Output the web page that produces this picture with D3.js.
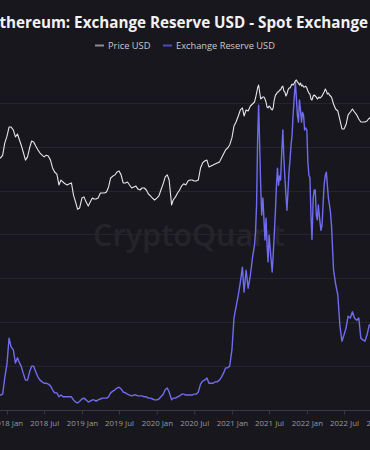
<!DOCTYPE html>
<html><head><meta charset="utf-8">
<script src="https://cdn.jsdelivr.net/npm/d3@7"></script>
<style>
html,body{margin:0;padding:0;background:#18171d;overflow:hidden;}
svg{display:block;}
</style></head>
<body>
<svg id="chart" width="370" height="450"></svg>
<script>
const titleText = "Ethereum: Exchange Reserve USD - Spot Exchange";
const seriesNames = ["Price USD", "Exchange Reserve USD"];
const tickDates = ["2018-01-01","2018-07-01","2019-01-01","2019-07-01","2020-01-01","2020-07-01","2021-01-01","2021-07-01","2022-01-01","2022-07-01","2023-01-01"];
const tickLabels = ["2018 Jan","2018 Jul","2019 Jan","2019 Jul","2020 Jan","2020 Jul","2021 Jan","2021 Jul","2022 Jan","2022 Jul","2023 Jan"];
const reserveGrid = [10,20,30,40,50,60,70]; // billions USD

const dates = [
"2017-11-21","2017-12-01","2017-12-11","2017-12-21",
"2018-01-01","2018-01-11","2018-01-21","2018-02-01","2018-02-11","2018-02-21","2018-03-01","2018-03-11","2018-03-21",
"2018-04-01","2018-04-11","2018-04-21","2018-05-01","2018-05-11","2018-05-21","2018-06-01","2018-06-11","2018-06-21",
"2018-07-01","2018-07-11","2018-07-21","2018-08-01","2018-08-11","2018-08-21","2018-09-01","2018-09-11","2018-09-21",
"2018-10-01","2018-10-11","2018-10-21","2018-11-01","2018-11-11","2018-11-21","2018-12-01","2018-12-11","2018-12-21",
"2019-01-01","2019-01-11","2019-01-21","2019-02-01","2019-02-11","2019-02-21","2019-03-01","2019-03-11","2019-03-21",
"2019-04-01","2019-04-11","2019-04-21","2019-05-01","2019-05-11","2019-05-21","2019-06-01","2019-06-11","2019-06-21",
"2019-07-01","2019-07-11","2019-07-21","2019-08-01","2019-08-11","2019-08-21","2019-09-01","2019-09-11","2019-09-21",
"2019-10-01","2019-10-11","2019-10-21","2019-11-01","2019-11-11","2019-11-21","2019-12-01","2019-12-11","2019-12-21",
"2020-01-01","2020-01-11","2020-01-21","2020-02-01","2020-02-11","2020-02-21","2020-03-01","2020-03-13","2020-03-21",
"2020-04-01","2020-04-11","2020-04-21","2020-05-01","2020-05-11","2020-05-21","2020-06-01","2020-06-11","2020-06-21",
"2020-07-01","2020-07-11","2020-07-21","2020-08-01","2020-08-11","2020-08-21","2020-09-01","2020-09-11","2020-09-21",
"2020-10-01","2020-10-11","2020-10-21","2020-11-01","2020-11-11","2020-11-21","2020-12-01","2020-12-11","2020-12-21",
"2021-01-01","2021-01-11","2021-01-21","2021-02-01","2021-02-11","2021-02-21","2021-03-01","2021-03-11","2021-03-21",
"2021-04-01","2021-04-11","2021-04-21","2021-04-26",
"2021-05-01","2021-05-06","2021-05-11","2021-05-16","2021-05-21","2021-05-26",
"2021-06-01","2021-06-06","2021-06-11","2021-06-16","2021-06-21","2021-06-26",
"2021-07-01","2021-07-06","2021-07-11","2021-07-16","2021-07-21","2021-07-26",
"2021-08-01","2021-08-06","2021-08-11","2021-08-16","2021-08-21","2021-08-26",
"2021-09-01","2021-09-06","2021-09-11","2021-09-16","2021-09-21","2021-09-26",
"2021-10-01","2021-10-06","2021-10-11","2021-10-16","2021-10-21","2021-10-26",
"2021-11-01","2021-11-06","2021-11-11","2021-11-16","2021-11-21","2021-11-26",
"2021-12-01","2021-12-06","2021-12-11","2021-12-16","2021-12-21","2021-12-26",
"2022-01-01","2022-01-06","2022-01-11","2022-01-16","2022-01-21","2022-01-26",
"2022-02-01","2022-02-06","2022-02-11","2022-02-16","2022-02-21","2022-02-26",
"2022-03-01","2022-03-06","2022-03-11","2022-03-16","2022-03-21","2022-03-26",
"2022-04-01","2022-04-06","2022-04-11","2022-04-16","2022-04-21","2022-04-26",
"2022-05-01","2022-05-11","2022-05-21","2022-06-01","2022-06-11","2022-06-21",
"2022-07-01","2022-07-11","2022-07-21","2022-08-01","2022-08-11","2022-08-21",
"2022-09-01","2022-09-11","2022-09-21","2022-10-01","2022-10-11","2022-10-21","2022-11-01","2022-11-11"
];

const priceUSD = [
465,465,505,725,
890,1170,1170,1070,870,950,818,685,555,
435,480,625,771,750,664,590,538,505,
480,505,492,435,344,305,287,207,240,
226,214,207,214,220,153,125,100,104,
140,145,125,110,125,140,136,136,140,
163,163,163,168,195,255,270,280,305,
314,280,220,220,226,207,189,195,201,
183,178,189,189,178,158,149,140,132,
140,149,178,214,263,280,240,114,132,
145,163,178,201,214,207,233,240,240,
233,233,240,344,400,424,435,355,365,
375,387,400,410,465,523,590,625,685,
845,1208,1360,1628,1950,2070,1628,1950,1890,
2196,2332,2475,2790,
3235,3760,4110,3335,2706,2790,
2870,2870,2706,2475,2130,2070,
2196,2130,2008,1950,2070,2625,
3050,3142,3335,3335,3540,3540,
3870,3991,3437,3335,2960,3142,
3540,3760,3760,3991,4237,4110,
4365,4637,4780,4500,4365,4110,
4365,3991,4110,3870,3870,3991,
3760,3437,3235,3142,2706,2625,
2960,3050,2960,2870,2706,2790,
2870,2790,2870,2960,3142,3335,
3650,3437,3142,3235,3050,2960,
2870,2332,2008,1890,1445,1104,
1104,1260,1680,1835,2008,1835,
1680,1489,1360,1360,1360,1400,1535,1445
];

const reserveUSDbn = [
3.3,3.3,3.5,7.2,
10.4,16.3,14.3,13.6,10.6,11.8,10.8,9.9,8.3,
6.7,6.7,8.6,9.9,9.9,8.6,7.4,6.7,6.3,
6.0,6.0,5.8,5.4,4.5,3.8,3.8,2.9,3.3,
2.9,2.9,2.9,2.9,2.9,2.2,1.7,1.5,1.9,
2.4,2.6,2.2,1.7,1.9,2.2,2.2,1.9,2.2,
2.4,2.6,2.6,2.6,2.9,3.8,4.2,4.5,4.9,
5.1,4.7,4.0,3.8,3.5,3.3,3.1,3.3,3.3,
3.1,3.1,3.1,2.9,2.9,2.6,2.6,2.4,2.2,
2.2,2.4,2.9,3.5,4.5,4.9,4.0,2.2,2.6,
2.6,2.9,3.1,3.5,3.5,3.3,3.3,3.3,3.3,
3.5,3.5,4.0,5.8,6.5,6.7,7.2,6.0,6.0,
6.0,6.3,6.3,6.7,7.4,8.3,9.5,9.5,9.9,
13.6,20.9,23.4,26.1,29.1,32.5,26.8,31.8,27.7,
30.7,34.6,37.6,40.5,
46.7,61.5,69.5,60.6,51.2,44.4,
48.3,43.3,38.7,43.7,37.6,33.7,
39.8,36.9,34.1,31.4,35.3,39.8,
45.5,51.2,55.1,51.2,53.3,52.4,
59.2,63.8,57.4,52.9,49.0,45.5,
49.7,54.2,57.0,60.4,62.7,67.2,
71.6,74.8,71.1,67.2,65.6,70.7,
68.4,65.6,67.9,67.2,63.8,64.3,
63.8,56.5,53.5,52.9,44.4,38.8,
48.3,50.1,50.1,44.4,43.3,46.7,
45.1,42.8,40.9,42.1,46.7,51.2,
53.5,54.2,51.2,48.3,46.7,45.1,
42.1,31.9,28.7,26.1,19.1,15.6,
17.0,18.6,21.3,20.9,22.3,20.9,
20.4,20.9,16.3,15.9,15.6,17.0,19.3,19.3
];

const W = 370, H = 450;
const FONT = "Open Sans, Noto Sans, sans-serif";
const svg = d3.select("#chart");
const parse = d3.utcParse("%Y-%m-%d");
const data = dates.map((d, i) => ({ date: parse(d), price: priceUSD[i], reserve: reserveUSDbn[i] }));

const x = d3.scaleUtc().domain([parse("2018-01-01"), parse("2022-07-01")]).range([7, 344]);
const yPrice = d3.scaleLog().domain([10, 10000]).range([286.3, 55.3]);
const yRes = d3.scaleLinear().domain([0, 80]).range([409.5, 59.1]);

function fitSize(text, weight, target, base) {
  const t = svg.append("text").attr("font-family", FONT).attr("font-weight", weight)
    .attr("font-size", base).text(text);
  const w = t.node().getComputedTextLength();
  t.remove();
  return base * target / w;
}

svg.append("rect").attr("width", W).attr("height", H).attr("fill", "#18171d");

svg.append("g").selectAll("line").data(reserveGrid).join("line")
  .attr("x1", 0).attr("x2", W)
  .attr("y1", d => Math.round(yRes(d)) + 0.5).attr("y2", d => Math.round(yRes(d)) + 0.5)
  .attr("stroke", "#25242c").attr("stroke-width", 1);

const wmSize = fitSize("CryptoQuant", 600, 192, 30);
svg.append("text").attr("x", 189).attr("y", 246).attr("text-anchor", "middle")
  .attr("font-family", FONT).attr("font-size", wmSize).attr("font-weight", 600)
  .attr("fill", "#25242b").text("CryptoQuant");

const tickSize = fitSize("2018 Jul", 400, 29, 10);
const ax = svg.append("g").attr("transform", `translate(0,${Math.round(yRes(0)) + 0.5})`)
  .call(d3.axisBottom(x).tickValues(tickDates.map(parse)).tickFormat((d, i) => tickLabels[i]).tickSize(4).tickSizeOuter(0));
ax.select(".domain").attr("stroke", "#3a3942").attr("d", `M0,0H${W}`);
ax.selectAll(".tick line").attr("stroke", "#3a3942");
ax.selectAll(".tick text").attr("fill", "#9a99a3").attr("font-size", tickSize)
  .attr("font-family", FONT).attr("y", 10).attr("dy", "0.71em");

const resLine = d3.line().x(d => x(d.date)).y(d => yRes(d.reserve));
const priceLine = d3.line().x(d => x(d.date)).y(d => yPrice(d.price));
svg.append("path").datum(data).attr("d", resLine).attr("fill", "none")
  .attr("stroke", "#6f6cf0").attr("stroke-width", 1.4).attr("stroke-linejoin", "round");
svg.append("path").datum(data).attr("d", priceLine).attr("fill", "none")
  .attr("stroke", "#e6e6ea").attr("stroke-width", 1.1).attr("stroke-linejoin", "round");

const titleSize = fitSize(titleText.slice(1), 700, 369, 16);
svg.append("text").attr("x", 368).attr("y", 28).attr("text-anchor", "end")
  .attr("font-family", FONT).attr("font-size", titleSize).attr("font-weight", 700)
  .attr("fill", "#f2f2f4").text(titleText);

const legSize = fitSize(seriesNames[1], 400, 99, 10);
const legend = svg.append("g").attr("font-family", FONT).attr("font-size", legSize);
const legendItems = [
  { name: seriesNames[0], color: "#8c8b93", x: 95 },
  { name: seriesNames[1], color: "#4d4bb8", x: 163 }
];
legendItems.forEach(it => {
  legend.append("line").attr("x1", it.x).attr("x2", it.x + 9).attr("y1", 45.5).attr("y2", 45.5)
    .attr("stroke", it.color).attr("stroke-width", 2);
  legend.append("text").attr("x", it.x + 13).attr("y", 49).attr("fill", "#c9c8cf").text(it.name);
});
</script>
</body></html>
